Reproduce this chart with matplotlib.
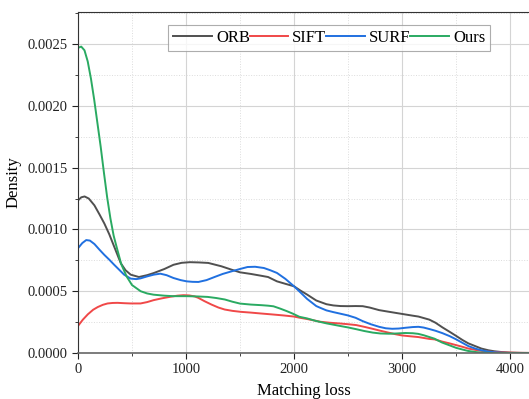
import matplotlib
matplotlib.use('Agg')
import matplotlib.pyplot as plt
from matplotlib.ticker import MultipleLocator

# values (density in units of 1e-4)
orb_x = [0, 30, 61, 100, 152, 200, 244, 290, 335, 396, 440, 488, 564, 640, 701, 800, 884, 960, 1037, 1120,
         1206, 1327, 1420, 1500, 1600, 1691, 1760, 1842, 1920, 2000, 2060, 2121, 2206, 2300, 2364, 2430, 2500,
         2570, 2636, 2700, 2788, 2870, 2939, 3030, 3100, 3152, 3253, 3310, 3373, 3440, 3500, 3560, 3614, 3680,
         3735, 3800, 3855, 3930, 4000, 4100, 4300]
orb_y = [12.35, 12.6, 12.67, 12.5, 11.95, 11.2, 10.48, 9.6, 8.61, 7.27, 6.7, 6.34, 6.15, 6.3, 6.47, 6.8, 7.14,
         7.3, 7.35, 7.33, 7.29, 7.02, 6.75, 6.53, 6.4, 6.26, 6.15, 5.8, 5.6, 5.4, 5.05, 4.73, 4.25, 3.95, 3.85,
         3.8, 3.79, 3.8, 3.79, 3.68, 3.47, 3.35, 3.25, 3.12, 3.02, 2.95, 2.7, 2.45, 2.08, 1.72, 1.39, 1.05, 0.78,
         0.55, 0.36, 0.22, 0.14, 0.07, 0.03, 0.01, 0.0]

sift_x = [0, 45, 91, 140, 183, 230, 274, 320, 366, 430, 488, 579, 640, 701, 780, 854, 920, 976, 1030, 1080,
          1115, 1170, 1236, 1300, 1358, 1430, 1509, 1600, 1691, 1800, 1903, 2000, 2055, 2121, 2206, 2242, 2330,
          2424, 2500, 2576, 2650, 2727, 2800, 2879, 2940, 3000, 3080, 3152, 3253, 3303, 3373, 3440, 3500, 3560,
          3614, 3680, 3735, 3800, 3855, 3930, 4000, 4115, 4300]
sift_y = [2.19, 2.7, 3.13, 3.5, 3.72, 3.9, 4.01, 4.05, 4.06, 4.03, 4.01, 4.01, 4.12, 4.28, 4.43, 4.55, 4.64,
          4.68, 4.66, 4.58, 4.46, 4.2, 3.92, 3.68, 3.52, 3.41, 3.33, 3.27, 3.2, 3.12, 3.04, 2.95, 2.85, 2.75,
          2.6, 2.53, 2.45, 2.39, 2.33, 2.26, 2.12, 1.96, 1.8, 1.64, 1.52, 1.42, 1.35, 1.29, 1.14, 1.1, 0.92,
          0.78, 0.64, 0.5, 0.36, 0.25, 0.17, 0.11, 0.08, 0.05, 0.03, 0.01, 0.0]

surf_x = [0, 40, 76, 110, 152, 200, 244, 290, 335, 380, 427, 488, 540, 579, 640, 701, 762, 820, 884, 950, 1006,
          1060, 1115, 1190, 1267, 1340, 1418, 1500, 1570, 1640, 1721, 1780, 1842, 1920, 2000, 2060, 2121, 2206,
          2242, 2300, 2364, 2430, 2500, 2570, 2636, 2710, 2788, 2850, 2909, 2970, 3030, 3100, 3152, 3200, 3253,
          3310, 3373, 3440, 3500, 3560, 3614, 3680, 3735, 3800, 3855, 3930, 4000, 4300]
surf_y = [8.48, 8.9, 9.14, 9.1, 8.82, 8.35, 7.94, 7.55, 7.14, 6.75, 6.34, 6.02, 5.98, 6.04, 6.2, 6.34, 6.42,
          6.3, 6.07, 5.9, 5.8, 5.76, 5.75, 5.9, 6.16, 6.4, 6.6, 6.8, 6.96, 6.98, 6.88, 6.7, 6.48, 6.0, 5.4, 4.9,
          4.38, 3.8, 3.66, 3.45, 3.31, 3.18, 3.04, 2.85, 2.58, 2.33, 2.12, 2.0, 1.96, 1.98, 2.04, 2.1, 2.12,
          2.06, 1.94, 1.8, 1.61, 1.37, 1.11, 0.82, 0.56, 0.35, 0.22, 0.11, 0.06, 0.02, 0.0, 0.0]

ours_x = [0, 30, 60, 90, 120, 150, 180, 210, 240, 270, 300, 330, 360, 400, 450, 500, 580, 640, 700, 800, 880,
          1000, 1100, 1200, 1280, 1360, 1430, 1500, 1600, 1700, 1760, 1810, 1870, 1930, 1990, 2050, 2121, 2200,
          2300, 2420, 2500, 2580, 2650, 2730, 2800, 2880, 2950, 3030, 3100, 3150, 3200, 3250, 3300, 3370, 3440,
          3500, 3560, 3610, 3680, 3730, 3800, 3850, 4300]
ours_y = [24.7, 24.8, 24.5, 23.6, 22.2, 20.5, 18.6, 16.7, 14.6, 12.6, 10.9, 9.5, 8.5, 7.2, 6.2, 5.5, 5.0,
          4.82, 4.72, 4.64, 4.6, 4.6, 4.58, 4.54, 4.45, 4.33, 4.15, 4.0, 3.92, 3.87, 3.83, 3.78, 3.6, 3.4,
          3.18, 2.93, 2.8, 2.6, 2.4, 2.2, 2.07, 1.92, 1.78, 1.65, 1.58, 1.56, 1.58, 1.62, 1.6, 1.55, 1.44, 1.3,
          1.16, 0.85, 0.62, 0.42, 0.28, 0.17, 0.08, 0.03, 0.01, 0.0, 0.0]

names = ['ORB', 'SIFT', 'SURF', 'Ours']
colors = ['#505050', '#f04848', '#2070e0', '#2aaa62']
series = [(orb_x, orb_y), (sift_x, sift_y), (surf_x, surf_y), (ours_x, ours_y)]

plt.rcParams['font.family'] = ['Liberation Serif', 'DejaVu Serif']

fig = plt.figure(figsize=(5.29, 3.99), dpi=100)
ax = fig.add_axes([78 / 529, 46 / 399, 452 / 529, 341 / 399])

for (xs, ys), name, c in zip(series, names, colors):
    ax.plot(xs, [v * 1e-4 for v in ys], color=c, lw=1.4, label=name)

ax.set_xlim(0, 4185)
ax.set_ylim(0, 0.00276)
ax.xaxis.set_major_locator(MultipleLocator(1000))
ax.xaxis.set_minor_locator(MultipleLocator(500))
ax.yaxis.set_major_locator(MultipleLocator(0.0005))
ax.yaxis.set_minor_locator(MultipleLocator(0.00025))
ax.yaxis.set_major_formatter(plt.FormatStrFormatter('%.4f'))

ax.grid(which='major', color='#d4d4d4', lw=0.8)
ax.grid(which='minor', color='#dcdcdc', lw=0.7, ls=':')
ax.set_axisbelow(True)
ax.tick_params(which='major', direction='out', length=4, width=0.8, labelsize=10.5, colors='#222222')
ax.tick_params(which='minor', direction='out', length=2.5, width=0.6, colors='#222222')
ax.spines['right'].set_visible(False)
for s in ['left', 'top', 'bottom']:
    ax.spines[s].set_color('#333333')
ax.spines['bottom'].set_color('#666666')
ax.spines['bottom'].set_linewidth(1.2)

ax.set_xlabel('Matching loss', fontsize=12, labelpad=5)
ax.set_ylabel('Density', fontsize=12, labelpad=4)

leg = ax.legend(ncol=4, loc='upper left', bbox_to_anchor=(0.20, 0.962), borderaxespad=0,
                fontsize=12, frameon=True, fancybox=False, handlelength=2.3, handletextpad=0.25,
                columnspacing=0.0, borderpad=0.3)
leg.get_frame().set_edgecolor('#999999')
leg.get_frame().set_linewidth(0.8)

fig.savefig('out.png', dpi=100)
